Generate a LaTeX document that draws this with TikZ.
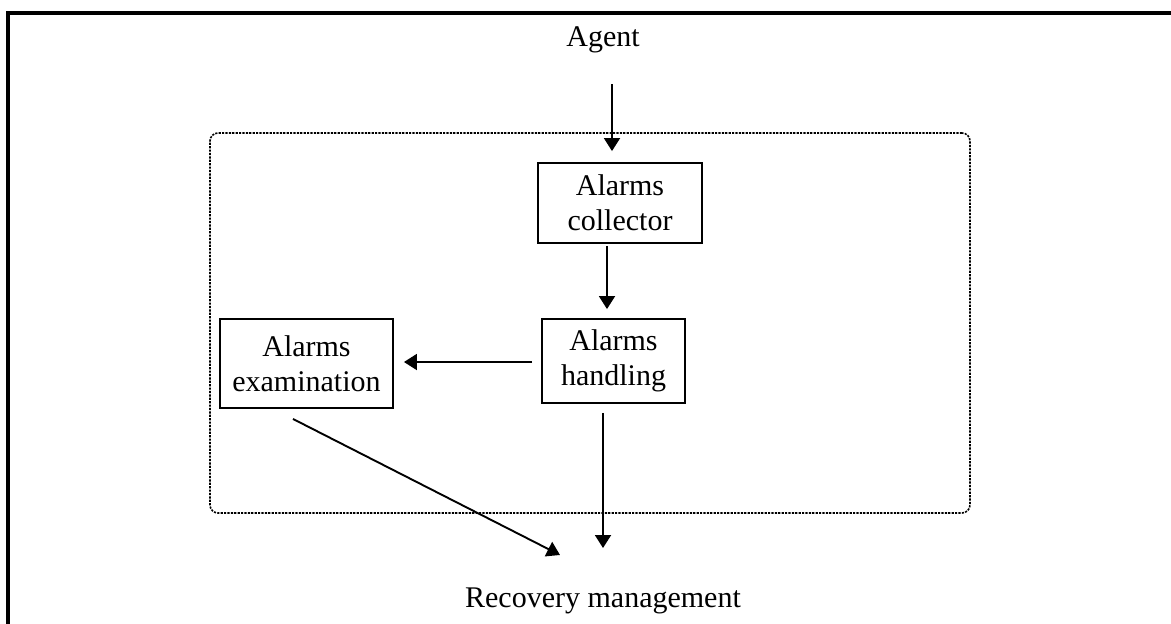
\documentclass[tikz,border=0pt]{standalone}
\usepackage{fontspec}
\setmainfont{Liberation Serif}
\usetikzlibrary{arrows.meta,calc}
\begin{document}
\begin{tikzpicture}[x=1pt,y=-1pt,
  txt/.style={font=\fontsize{30}{35}\selectfont, align=center, inner sep=0pt},
  blockbox/.style={txt, draw, line width=1.9pt, inner sep=0pt},
  arr/.style={line width=1.9pt, -{Triangle[length=13pt,width=16pt]}},
  groupbox/.style={draw, line width=1.6pt, dash pattern=on 2.2pt off 1.2pt, rounded corners=8pt}]
  \clip (0,0) rectangle (1171,624);
  % outer frame, running past the page on the right and at the bottom
  \draw[line width=4pt] (7.5,700) -- (7.5,12.5) -- (1250,12.5);
  % dashed group
  \node[groupbox, minimum width=760pt, minimum height=380pt, inner sep=0pt] (grp) at (590,323) {};
  % nodes
  \node[txt] (agent) at (603,40) {Agent};
  \node[blockbox, minimum width=164pt, minimum height=80pt] (col) at (620,203) {Alarms\\collector};
  \node[blockbox, minimum width=143pt, minimum height=84pt] (hand) at (613.5,361) {Alarms\\handling};
  \node[blockbox, minimum width=173pt, minimum height=89pt] (exam) at (306.5,363.5) {Alarms\\examination};
  \node[txt] (rec) at (603,601) {Recovery management};
  % connectors
  \draw[arr] ($(agent.center)+(9,44)$) -- ($(col.north)+(-8,-11)$);
  \draw[arr] ($(col.south)+(-13,2)$) -- ($(hand.north)+(-6.5,-9)$);
  \draw[arr] ($(hand.west)+(-9,1)$) -- ($(exam.east)+(10,-1.5)$);
  \draw[arr] ($(hand.south)+(-10.5,9)$) -- ($(rec.center)+(0,-53)$);
  \draw[arr] ($(exam.south)+(-13.5,10)$) -- ($(rec.center)+(-43,-46)$);
\end{tikzpicture}
\end{document}
